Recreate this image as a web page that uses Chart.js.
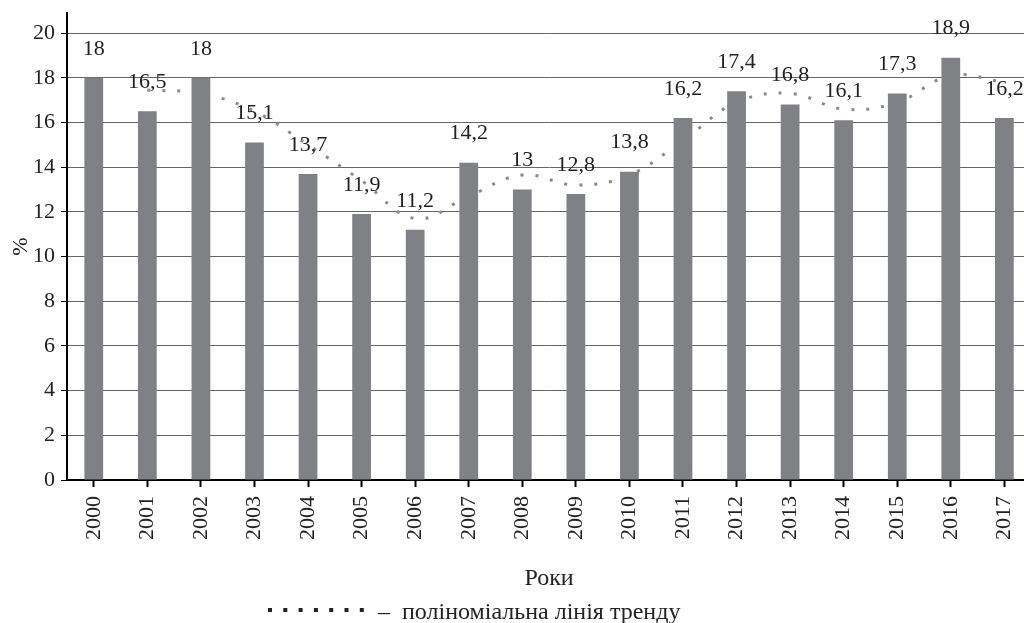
<!DOCTYPE html>
<html>
<head>
<meta charset="utf-8">
<script src="https://cdn.jsdelivr.net/npm/chart.js@4"></script>
<style>
  body { margin: 0; overflow: hidden; background: #fff; }
</style>
</head>
<body>
<canvas id="chart" width="1040" height="623"></canvas>
<script>
// years on the x axis
var years = ["2000", "2001", "2002", "2003", "2004", "2005", "2006", "2007", "2008",
  "2009", "2010", "2011", "2012", "2013", "2014", "2015", "2016", "2017"];

// bar values, %
var shares = [18, 16.5, 18, 15.1, 13.7, 11.9, 11.2, 14.2, 13, 12.8, 13.8, 16.2, 17.4, 16.8, 16.1, 17.3, 18.9, 16.2];

// polynomial trend line
var trend = [null, 17.45, 17.3, 16.5, 15.0, 13.4, 11.7, 12.7, 13.65, 13.2, 13.65, 15.2, 16.9, 17.3, 16.6, 16.9, 18.1, 17.8];

var yTicks = [0, 2, 4, 6, 8, 10, 12, 14, 16, 18, 20];

var serif = "'Liberation Serif', 'DejaVu Serif', serif";

// value labels above the bars + legend line under the axis title
var labelsPlugin = {
  id: "labels",
  afterDatasetsDraw: function (chart) {
    var ctx = chart.ctx;
    var meta = chart.getDatasetMeta(0);
    ctx.save();
    ctx.font = "22px " + serif;
    ctx.fillStyle = "#222";
    ctx.textAlign = "center";
    ctx.textBaseline = "middle";
    meta.data.forEach(function (bar, i) {
      ctx.fillText(String(shares[i]).replace(".", ","), bar.x, bar.y - 29);
    });
    ctx.restore();
  },
  afterDraw: function (chart) {
    var ctx = chart.ctx;
    ctx.save();
    ctx.fillStyle = "#222";
    for (var i = 0; i < 7; i++) {
      ctx.fillRect(268 + i * 15.3, 608, 4, 4);
    }
    ctx.font = "24px " + serif;
    ctx.textAlign = "left";
    ctx.textBaseline = "alphabetic";
    ctx.fillText("–", 378, 619);
    ctx.fillText("поліноміальна лінія тренду", 402, 619);
    ctx.restore();
  }
};

var ctx = document.getElementById("chart").getContext("2d");
var chart = new Chart(ctx, {
  type: "bar",
  data: {
    labels: years,
    datasets: [
      {
        label: "%",
        data: shares,
        backgroundColor: "#808185",
        barPercentage: 0.35,
        categoryPercentage: 1,
        order: 1
      },
      {
        type: "line",
        label: "поліноміальна лінія тренду",
        data: trend,
        borderColor: "#8a8a8a",
        borderWidth: 3,
        borderDash: [3, 12],
        pointRadius: 0,
        tension: 0.4,
        fill: false,
        order: 2
      }
    ]
  },
  options: {
    responsive: false,
    animation: false,
    layout: { padding: { top: 13, right: 8, left: 0, bottom: 0 } },
    plugins: {
      legend: { display: false },
      tooltip: { enabled: false }
    },
    scales: {
      x: {
        grid: {
          offset: false,
          drawOnChartArea: false,
          tickLength: 7,
          tickColor: "#000",
          tickWidth: 2
        },
        border: { color: "#000", width: 2 },
        ticks: {
          minRotation: 90,
          maxRotation: 90,
          padding: 9,
          color: "#222",
          font: { family: serif, size: 22 }
        },
        title: {
          display: true,
          text: "Роки",
          color: "#222",
          font: { family: serif, size: 24 },
          padding: { top: 0, bottom: 30 }
        },
        afterFit: function (scale) { scale.height = 143; }
      },
      y: {
        min: 0,
        max: 20.9,
        afterBuildTicks: function (scale) {
          scale.ticks = yTicks.map(function (v) { return { value: v }; });
        },
        grid: {
          color: "#666",
          lineWidth: 1,
          tickLength: 6,
          tickColor: "#000"
        },
        border: { color: "#000", width: 2 },
        ticks: {
          padding: 6,
          color: "#222",
          font: { family: serif, size: 22 }
        },
        title: {
          display: true,
          text: "%",
          color: "#222",
          font: { family: serif, size: 22 },
          padding: { top: 8, bottom: 0 }
        },
        afterFit: function (scale) {
          scale.width = 67;
          scale.paddingTop = 0;
          scale.paddingBottom = 0;
        }
      }
    }
  },
  plugins: [labelsPlugin]
});
</script>
</body>
</html>
